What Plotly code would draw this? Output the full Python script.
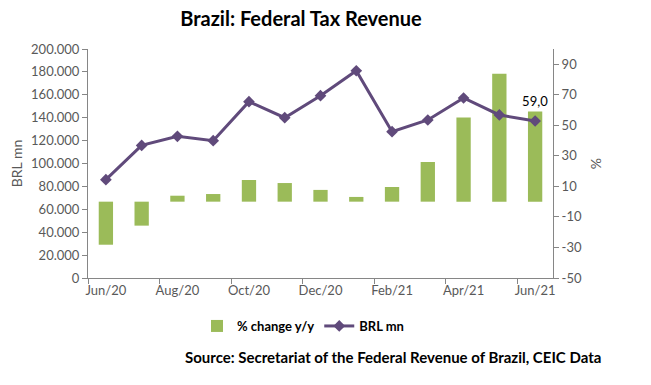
import plotly.graph_objects as go

months = ["Jun/20", "Jul/20", "Aug/20", "Sep/20", "Oct/20", "Nov/20", "Dec/20",
          "Jan/21", "Feb/21", "Mar/21", "Apr/21", "May/21", "Jun/21"]
pct_change = [-28.2, -15.7, 3.9, 5.0, 14.2, 12.2, 7.7, 3.1, 9.6, 26.0, 55.2, 83.8, 59.0]
brl_mn = [85900, 115800, 123700, 119900, 154000, 140000, 159200,
          181000, 127800, 138000, 157200, 142400, 137100]
pct_ticks = [-50, -30, -10, 10, 30, 50, 70, 90]

x_idx = list(range(len(months)))
label_idx = x_idx[::2]
bar_text = [""] * (len(pct_change) - 1) + [f"{pct_change[-1]:.1f}".replace(".", ",")]

FONT = "Lato"
GRAY = "#595959"
AXIS = "#868686"

W, H = 651, 385
L, R, T, B = 88, 553, 49, 278


def px_x(p):
    return (p - L) / (R - L)


def px_y(p):
    return (B - p) / (B - T)


fig = go.Figure()
fig.add_trace(go.Bar(
    x=x_idx, y=pct_change, name="% change y/y", yaxis="y",
    marker=dict(color="#9BBB59", line=dict(width=0)), width=0.4,
    text=bar_text, textposition="outside", cliponaxis=False, constraintext="none",
    textfont=dict(family=FONT, size=13, color="#000000"),
))
fig.add_trace(go.Scatter(
    x=x_idx, y=brl_mn, name="BRL mn", yaxis="y2", mode="lines+markers",
    line=dict(color="#604A7B", width=3),
    marker=dict(symbol="diamond", size=9, color="#604A7B"),
))

fig.update_layout(
    width=W, height=H,
    margin=dict(l=L, r=W - R, t=T, b=H - B, autoexpand=False),
    paper_bgcolor="white", plot_bgcolor="white",
    separators=",.",
    showlegend=True,
    font=dict(family=FONT, color=GRAY, size=13),
    title=dict(text="<b>Brazil: Federal Tax Revenue</b>", x=301 / W, xanchor="center",
               y=1 - 19 / H, yanchor="middle",
               font=dict(family=FONT, size=20, color="#000000")),
    xaxis=dict(
        range=[-0.5, len(months) - 0.5],
        tickmode="array", tickvals=label_idx, ticktext=[months[i] for i in label_idx],
        ticks="", showgrid=False, zeroline=False,
        showline=True, linecolor=AXIS, linewidth=1,
        tickfont=dict(family=FONT, size=13, color=GRAY),
        minor=dict(tickmode="array", tickvals=[i - 0.5 for i in label_idx],
                   ticks="outside", ticklen=5, tickcolor=AXIS, showgrid=False),
    ),
    yaxis=dict(
        side="right", range=[-50, 100], tickmode="array", tickvals=pct_ticks,
        ticktext=[str(v) for v in pct_ticks],
        showgrid=False, zeroline=False, showline=True, linecolor=AXIS, linewidth=1,
        ticks="outside", ticklen=5, tickcolor=AXIS,
        tickfont=dict(family=FONT, size=13, color=GRAY),
        title=dict(text="%", standoff=10, font=dict(family=FONT, size=14, color=GRAY)),
    ),
    yaxis2=dict(
        side="left", overlaying="y", range=[0, 200000], tickmode="linear", tick0=0, dtick=20000,
        tickformat=",d",
        showgrid=False, zeroline=False, showline=True, linecolor=AXIS, linewidth=1,
        ticks="outside", ticklen=5, tickcolor=AXIS,
        tickfont=dict(family=FONT, size=13, color=GRAY),
        title=dict(text="BRL mn", standoff=5, font=dict(family=FONT, size=14, color=GRAY)),
    ),
    legend=dict(orientation="h", x=px_x(303), xanchor="center", y=px_y(326), yanchor="middle",
                font=dict(family=FONT, size=13, color="#000000", weight="bold"),
                traceorder="normal", itemwidth=30, bgcolor="rgba(0,0,0,0)"),
    annotations=[dict(
        text="<b>Source: Secretariat of the Federal Revenue of Brazil, CEIC Data</b>",
        xref="paper", yref="paper", x=px_x(183), y=px_y(357),
        xanchor="left", yanchor="middle", showarrow=False,
        font=dict(family=FONT, size=15, color="#000000"),
    )],
)

fig.write_html("out.html", config={"displayModeBar": False},
               post_script="document.body.style.margin='0px';")
